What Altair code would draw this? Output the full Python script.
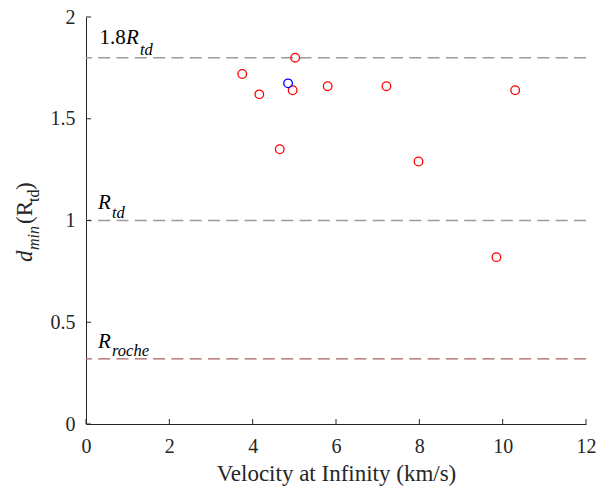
import altair as alt
import pandas as pd

# ---- data ----
vel = [3.75, 4.16, 4.65, 4.96, 5.02, 5.80, 7.21, 7.98, 9.85, 10.30, 4.85]
dmin = [1.72, 1.62, 1.35, 1.64, 1.80, 1.66, 1.66, 1.29, 0.82, 1.64, 1.674]
group = ["red"] * 10 + ["blue"]

line_values = [1.8, 1.0, 0.32]
line_colors = ["#9b9b9b", "#9b9b9b", "#a86060"]
label_prefix = ["1.8", "", ""]
label_main = ["R", "R", "R"]
label_sub = ["td", "td", "roche"]

x_ticks = [0, 2, 4, 6, 8, 10, 12]
y_ticks = [0, 0.5, 1, 1.5, 2]

W, H = 500, 407
FONT = "Liberation Serif"
AX = "#262626"

xs = alt.Scale(domain=[0, 12], nice=False)
ys = alt.Scale(domain=[0, 2], nice=False)

pts_df = pd.DataFrame({"vel": vel, "dmin": dmin, "group": group})

points = alt.Chart(pts_df).mark_point(
    shape="circle", filled=False, size=74, strokeWidth=1.3, opacity=1
).encode(
    x=alt.X("vel:Q", scale=xs,
            axis=alt.Axis(values=x_ticks, title="Velocity at Infinity (km/s)",
                          titleX=W / 2, titleY=56, titleAlign="center",
                          titleBaseline="alphabetic", labelBaseline="alphabetic",
                          labelPadding=28)),
    y=alt.Y("dmin:Q", scale=ys,
            axis=alt.Axis(values=y_ticks, title=None, format="~g", labelPadding=11)),
    color=alt.Color("group:N", scale=alt.Scale(domain=["red", "blue"],
                                               range=["#ff0000", "#0000ff"]),
                    legend=None),
)

lines_df = pd.DataFrame({"v": line_values, "c": line_colors})
lines = alt.Chart(lines_df).mark_rule(strokeDash=[12, 6.3], strokeWidth=1.4).encode(
    y=alt.Y("v:Q", scale=ys),
    color=alt.Color("c:N", scale=None),
)

# inward ticks
xt = alt.Chart(pd.DataFrame({"t": x_ticks})).mark_rule(color=AX, strokeWidth=1).encode(
    x=alt.X("t:Q", scale=xs), y=alt.value(H), y2=alt.value(H - 5))
yt = alt.Chart(pd.DataFrame({"t": y_ticks})).mark_rule(color=AX, strokeWidth=1).encode(
    y=alt.Y("t:Q", scale=ys), x=alt.value(0), x2=alt.value(5))

layers = [lines, xt, yt, points]

# line labels
main_dy = [-14, -12, -11]
sub_dy = [-3, -3, -2.5]
for i, v in enumerate(line_values):
    df = pd.DataFrame({"v": [v], "p": [label_prefix[i]], "m": [label_main[i]],
                       "s": [label_sub[i]]})
    if label_prefix[i]:
        x0 = 13.5
        layers.append(alt.Chart(df).mark_text(
            font=FONT, fontSize=21, align="left", baseline="alphabetic",
            dy=main_dy[i], color="#000000").encode(
            y=alt.Y("v:Q", scale=ys), x=alt.value(x0), text="p:N"))
        x0 += 26.5
    else:
        x0 = 12
    layers.append(alt.Chart(df).mark_text(
        font=FONT, fontSize=21, fontStyle="italic", align="left",
        baseline="alphabetic", dy=main_dy[i], color="#000000").encode(
        y=alt.Y("v:Q", scale=ys), x=alt.value(x0), text="m:N"))
    layers.append(alt.Chart(df).mark_text(
        font=FONT, fontSize=16.5, fontStyle="italic", align="left",
        baseline="alphabetic", dy=sub_dy[i], color="#000000").encode(
        y=alt.Y("v:Q", scale=ys), x=alt.value(x0 + 14), text="s:N"))

# y-axis title d_min(R_td), built from rotated pieces
ytitle_text = ["d", "min", "(R", "td", ")"]
ytitle_style = [
    # (y_pixel_in_plot, x_baseline, size, italic)
    (245, -54, 23, True),
    (233, -47, 16, True),
    (207, -54, 23, False),
    (185, -47, 16, False),
    (173, -54, 23, False),
]
for txt, (py, px, fs, it) in zip(ytitle_text, ytitle_style):
    kw = dict(font=FONT, fontSize=fs, align="left", baseline="alphabetic",
              angle=270, color=AX)
    if it:
        kw["fontStyle"] = "italic"
    layers.append(alt.Chart(pd.DataFrame({"t": [txt]})).mark_text(**kw).encode(
        x=alt.value(px), y=alt.value(py), text="t:N"))

chart = alt.layer(*layers).properties(
    width=W, height=H,
    background="white",
    autosize=alt.AutoSizeParams(type="none"),
    padding={"left": 78, "top": 9, "right": 14, "bottom": 64},
).configure_view(strokeWidth=0).configure_axis(
    grid=False, ticks=False, tickSize=0, domainColor=AX, domainWidth=1,
    labelFont=FONT, labelFontSize=20, labelColor=AX,
    titleFont=FONT, titleFontSize=23, titleColor=AX, titleFontWeight="normal",
    labelFlush=False, labelOverlap=False,
)

chart.save("out.html", embed_options={"renderer": "svg", "actions": False})
